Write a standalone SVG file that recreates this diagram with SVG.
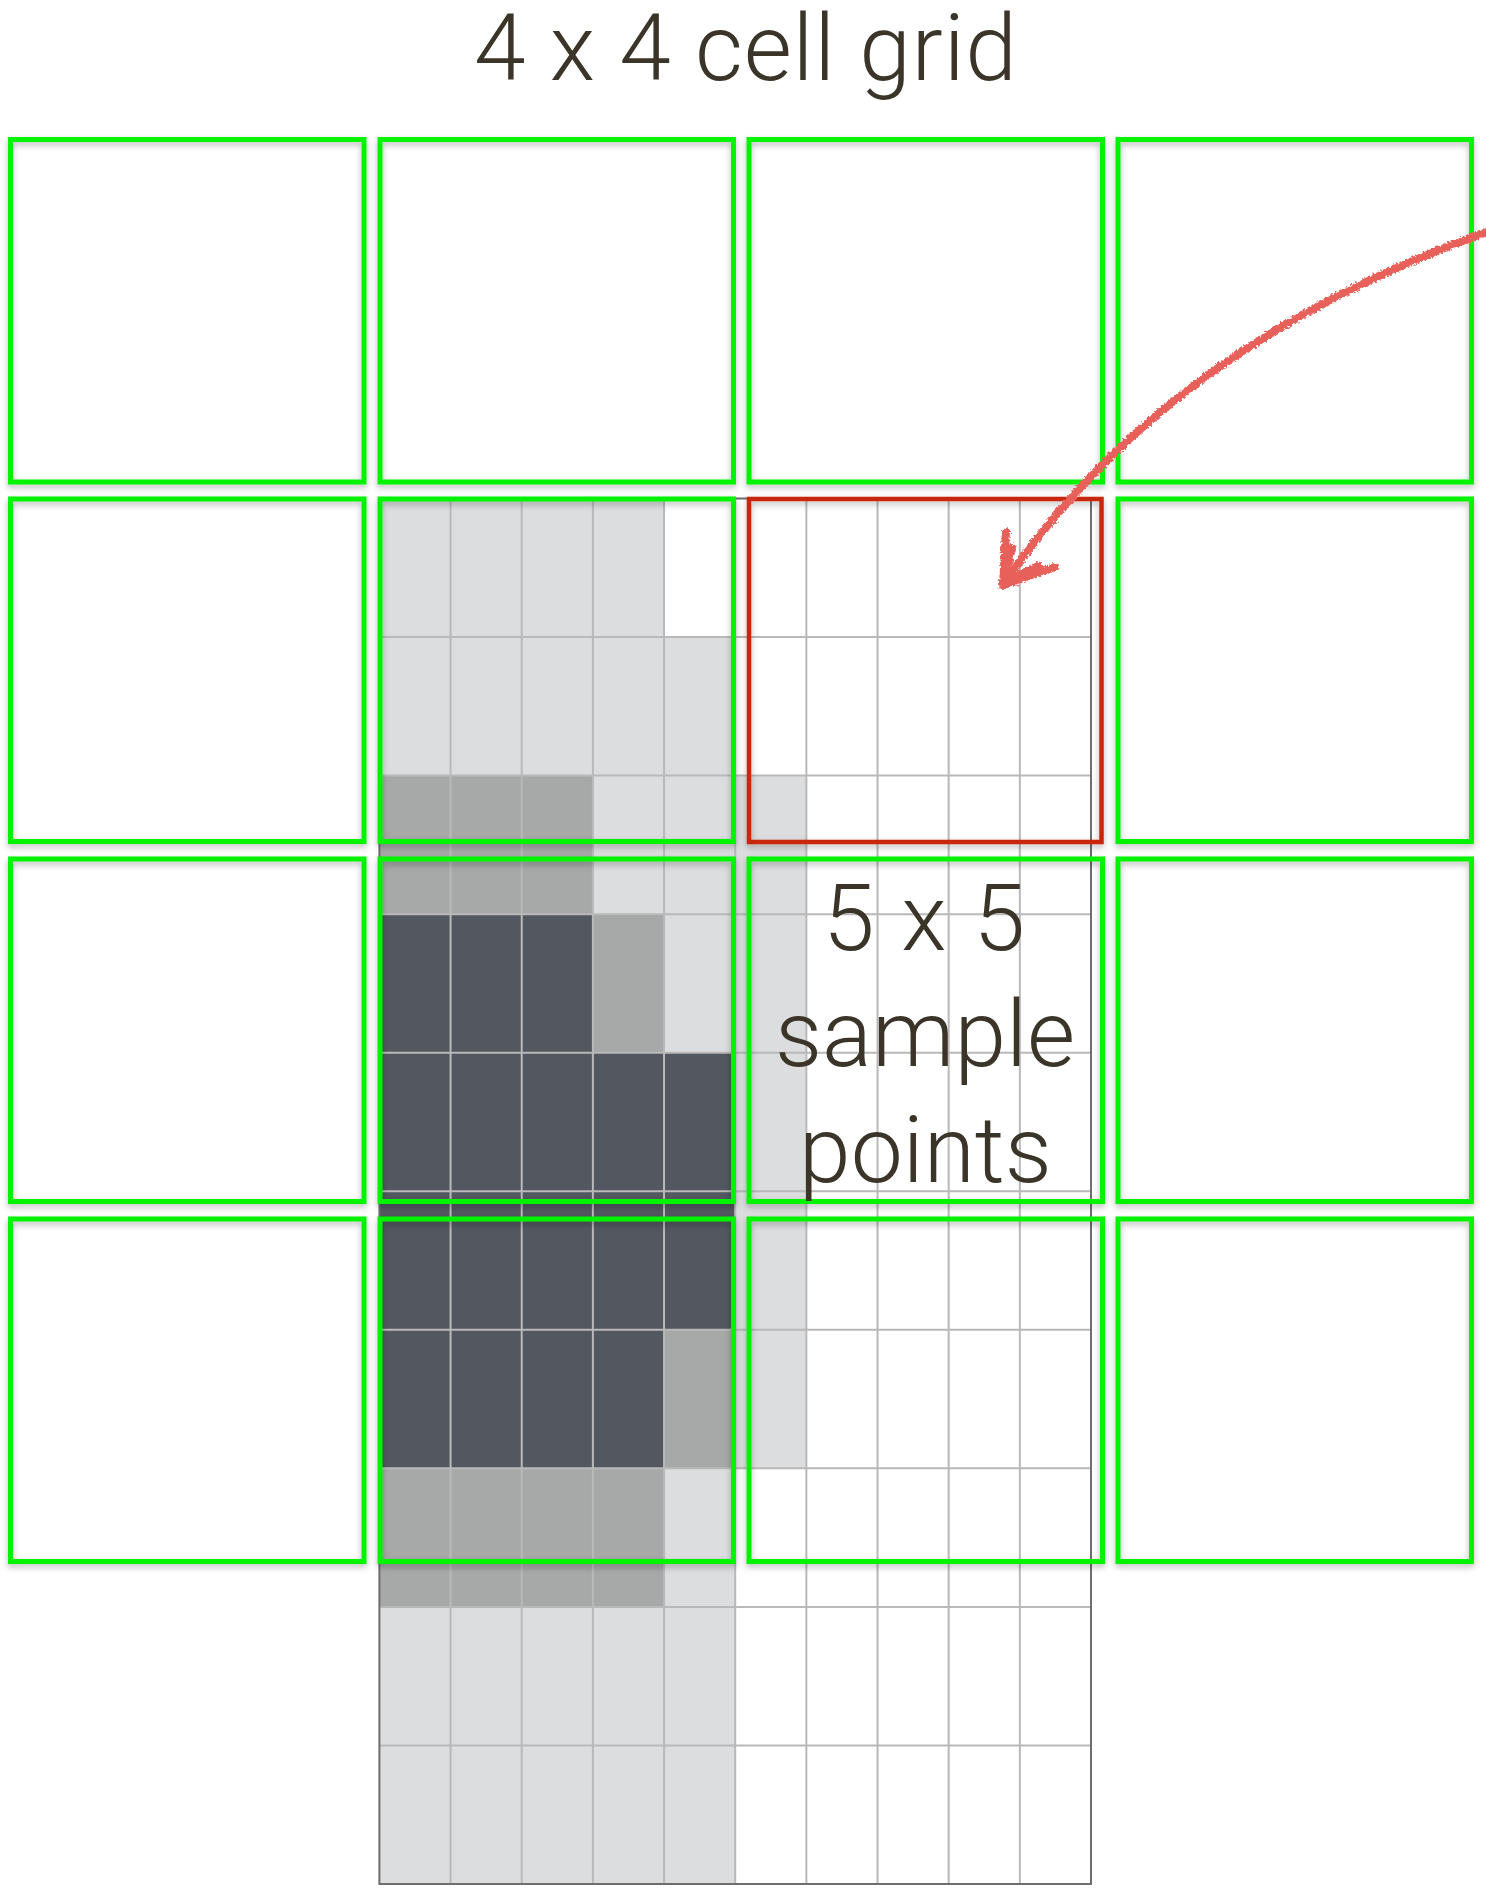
<svg xmlns="http://www.w3.org/2000/svg" width="1486" height="1888" viewBox="0 0 1486 1888">
<defs>
<style>
.lt{fill:#dcdddf}
.md{fill:#a6a9a8}
.dk{fill:#525760}
.gl{stroke:#b9b9b9;stroke-width:2;fill:none}
.cell{fill:none;stroke:#00f400;stroke-width:5;filter:url(#sh)}
.sel{fill:none;stroke:#c8280f;stroke-width:4.5;filter:url(#sh)}
.lbl{font-family:Roboto,"Liberation Sans",sans-serif;font-weight:300;font-size:93px;fill:#3b3428;text-anchor:middle}
.arw{fill:none;stroke:#e8605a;stroke-width:8;stroke-linecap:round;stroke-linejoin:round;filter:url(#rough)}
</style>
<filter id="sh" x="-5%" y="-5%" width="110%" height="112%">
<feDropShadow dx="0" dy="3" stdDeviation="3" flood-color="#000" flood-opacity="0.28"/>
</filter>
<filter id="rough" x="-10%" y="-10%" width="120%" height="120%">
<feTurbulence type="fractalNoise" baseFrequency="0.4" numOctaves="2" seed="4" result="n"/>
<feDisplacementMap in="SourceGraphic" in2="n" scale="6" xChannelSelector="R" yChannelSelector="G"/>
</filter>
</defs>
<rect width="1486" height="1888" fill="#fff"/>

<g id="sample-grid">
<rect class="lt" x="379.4" y="498.5" width="284.64" height="138.55"/>
<rect class="lt" x="379.4" y="637.05" width="355.8" height="138.55"/>
<rect class="lt" x="592.88" y="775.6" width="213.48" height="138.55"/>
<rect class="lt" x="664.04" y="914.15" width="142.32" height="138.55"/>
<rect class="lt" x="735.2" y="1052.7" width="71.16" height="415.65"/>
<rect class="lt" x="664.04" y="1468.35" width="71.16" height="138.55"/>
<rect class="lt" x="379.4" y="1606.9" width="355.8" height="277.1"/>
<rect class="md" x="379.4" y="775.6" width="213.48" height="138.55"/>
<rect class="md" x="592.88" y="914.15" width="71.16" height="138.55"/>
<rect class="md" x="664.04" y="1329.8" width="71.16" height="138.55"/>
<rect class="md" x="379.4" y="1468.35" width="284.64" height="138.55"/>
<rect class="dk" x="379.4" y="914.15" width="213.48" height="138.55"/>
<rect class="dk" x="379.4" y="1052.7" width="355.8" height="277.1"/>
<rect class="dk" x="379.4" y="1329.8" width="284.64" height="138.55"/>
<path class="gl" d="M450.56 498.5V1884M521.72 498.5V1884M592.88 498.5V1884M664.04 498.5V1884M735.2 498.5V1884M806.36 498.5V1884M877.52 498.5V1884M948.68 498.5V1884M1019.84 498.5V1884M379.4 637.05H1091M379.4 775.6H1091M379.4 914.15H1091M379.4 1052.7H1091M379.4 1191.25H1091M379.4 1329.8H1091M379.4 1468.35H1091M379.4 1606.9H1091M379.4 1745.45H1091"/>
<rect x="379.4" y="498.5" width="711.6" height="1385.5" fill="none" stroke="#6e6e6e" stroke-width="2"/>
</g>

<g id="title"><text class="lbl" x="745.5" y="80" textLength="543" lengthAdjust="spacing">4 x 4 cell grid</text></g>

<g id="cells">
<rect id="c11" class="cell" x="10.5" y="139.5" width="353.5" height="342.5"/>
<rect id="c12" class="cell" x="380" y="139.5" width="353.5" height="342.5"/>
<rect id="c13" class="cell" x="749" y="139.5" width="353.5" height="342.5"/>
<rect id="c14" class="cell" x="1118" y="139.5" width="353.5" height="342.5"/>
<rect id="c21" class="cell" x="10.5" y="499" width="353.5" height="342.5"/>
<rect id="c22" class="cell" x="380" y="499" width="353.5" height="342.5"/>
<rect id="c24" class="cell" x="1118" y="499" width="353.5" height="342.5"/>
<rect id="c31" class="cell" x="10.5" y="859" width="353.5" height="342.5"/>
<rect id="c32" class="cell" x="380" y="859" width="353.5" height="342.5"/>
<rect id="c33" class="cell" x="749" y="859" width="353.5" height="342.5"/>
<rect id="c34" class="cell" x="1118" y="859" width="353.5" height="342.5"/>
<rect id="c41" class="cell" x="10.5" y="1219" width="353.5" height="342.5"/>
<rect id="c42" class="cell" x="380" y="1219" width="353.5" height="342.5"/>
<rect id="c43" class="cell" x="749" y="1219" width="353.5" height="342.5"/>
<rect id="c44" class="cell" x="1118" y="1219" width="353.5" height="342.5"/>
</g>
<g id="selected-cell"><rect class="sel" x="749" y="499" width="352.5" height="343"/></g>

<g id="sample-label">
<text class="lbl" x="924" y="950" textLength="202" lengthAdjust="spacing">5 x 5</text>
<text class="lbl" x="925" y="1066">sample</text>
<text class="lbl" x="925.5" y="1182">points</text>
</g>

<g id="connectors">
<path class="arw" d="M1490 231Q1165 345.5 1004 584"/>
<path class="arw" d="M1003 585L1006 532M1003 585L1055 567M1003 583L1012 548M1004 583L1038 566"/>
</g>
</svg>
